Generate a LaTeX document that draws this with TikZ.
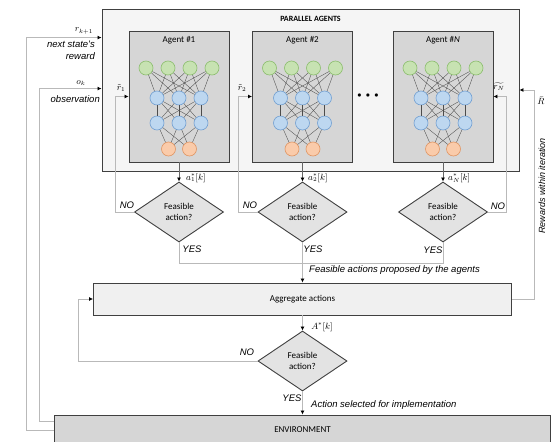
\documentclass[tikz,border=0pt]{standalone}
\usepackage{fontspec}
\setmainfont{Carlito}
\newfontfamily\arialfont{Liberation Sans}
\usepackage{amsmath}
\usetikzlibrary{arrows.meta, positioning, shapes.geometric, calc}

\definecolor{grnfill}{RGB}{199,226,178}
\definecolor{grnline}{RGB}{140,190,110}
\definecolor{blufill}{RGB}{189,215,240}
\definecolor{bluline}{RGB}{115,160,210}
\definecolor{orgfill}{RGB}{250,203,170}
\definecolor{orgline}{RGB}{225,150,100}

\begin{document}
\begin{tikzpicture}[
    x=1pt, y=-1pt,
    every node/.style={font=\fontsize{9}{11}\selectfont},
    box/.style={rectangle, draw=black!75, line width=0.9pt, align=center, inner sep=0pt},
    agentbox/.style={box, fill=gray!32, minimum width=100pt, minimum height=131pt},
    decision/.style={diamond, draw=black!75, line width=0.9pt, fill=gray!22, minimum width=89pt, minimum height=60pt, inner sep=0pt, align=center, font=\fontsize{9}{10.5}\selectfont},
    neuron/.style={circle, minimum size=14pt, inner sep=0pt, line width=0.6pt},
    edge/.style={black!70, line width=0.35pt},
    conn/.style={gray!55, line width=0.9pt},
    arrow/.style={conn, -{Latex[length=4pt, width=4pt, color=black]}},
    itlbl/.style={font=\arialfont\itshape\fontsize{9.5}{12}\selectfont, inner sep=1pt},
    mathlbl/.style={font=\fontsize{9}{11}\selectfont, inner sep=1pt},
    title/.style={font=\bfseries\fontsize{8}{10}\selectfont}
]
\clip (0,0) rectangle (552,442);

% ============ PARALLEL AGENTS ============
\node[box, fill=gray!8, minimum width=417pt, minimum height=162pt] (par) at (310.5,90) {};
\node[title, below=4pt of par.north] (partitle) {PARALLEL AGENTS};

% Agents with their networks
\foreach \i/\cx/\ttl in {1/179/1, 2/302.5/2, N/443/\textit{N}} {
    \node[agentbox] (ag\i) at (\cx,96.5) {};
    \node[below=2pt of ag\i.north] (t\i) {Agent \#\ttl};
    \foreach \j/\dx in {1/-33, 2/-11, 3/11, 4/33}
        \node[neuron, draw=grnline, fill=grnfill] (g\i\j) at ({\cx+\dx},68) {};
    \foreach \j/\dx in {1/-22, 2/0, 3/22} {
        \node[neuron, draw=bluline, fill=blufill] (h\i\j) at ({\cx+\dx},98) {};
        \node[neuron, draw=bluline, fill=blufill] (m\i\j) at ({\cx+\dx},123) {};
    }
    \foreach \j/\dx in {1/-10.5, 2/10.5}
        \node[neuron, draw=orgline, fill=orgfill] (o\i\j) at ({\cx+\dx},149) {};
    \foreach \a in {1,...,4} \foreach \b in {1,2,3} \draw[edge] (g\i\a) -- (h\i\b);
    \foreach \a in {1,2,3} \foreach \b in {1,2,3} \draw[edge] (h\i\a) -- (m\i\b);
    \foreach \a in {1,2,3} \foreach \b in {1,2} \draw[edge] (m\i\a) -- (o\i\b);
}
\node[font=\footnotesize] (dots) at (368,96) {$\bullet\;\bullet\;\bullet$};

% ============ AGENT FEASIBILITY CHECKS ============
\node[decision] (d1) at (179,212) {Feasible\\action?};
\node[decision] (d2) at (302.5,212) {Feasible\\action?};
\node[decision] (dN) at (443,212) {Feasible\\action?};

\foreach \i in {1,2,N} \draw[arrow, draw=black!60] (ag\i.south) -- (d\i.north);
\node[mathlbl, anchor=west] (a1) at (185,178) {$a_1^*[k]$};
\node[mathlbl, anchor=west] (a2) at (307,178) {$a_2^*[k]$};
\node[mathlbl, anchor=west] (aN) at (447,178) {$a_N^*[k]$};

% NO: back to the agent
\draw[arrow] (d1.west) -- ++(-19,0) |- (ag1.west);
\draw[arrow] (d2.west) -- ++(-19,0) |- (ag2.west);
\draw[arrow] (dN.east) -- ++(18,0) |- (agN.east);
\node[itlbl] (no1) at (127,205) {NO};
\node[itlbl] (no2) at (250,205) {NO};
\node[itlbl] (noN) at (498,206) {NO};
\node[mathlbl] (rt1) at (121,88) {$\tilde{r}_1$};
\node[mathlbl] (rt2) at (242,88) {$\tilde{r}_2$};
\node[mathlbl] (rtN) at (499,87) {$\widetilde{r_N}$};

% YES: to aggregation
\draw[conn] (d1.south) -- ++(0,21) -| (dN.south);
\node[itlbl] (yes1) at (192,249) {YES};
\node[itlbl] (yes2) at (313,249) {YES};
\node[itlbl] (yesN) at (433,250) {YES};
\node[itlbl, anchor=west] (feas) at (308,270) {Feasible actions proposed by the agents};

% ============ AGGREGATION ============
\node[box, fill=gray!12, minimum width=418pt, minimum height=32pt] (agg) at (302.5,299) {Aggregate actions};
\draw[arrow] (d2.south) -- (agg.north);

\node[decision] (d4) at (302.5,361) {Feasible\\action?};
\draw[arrow] (agg.south) -- (d4.north);
\node[mathlbl] (Astar) at (322,327) {$A^*[k]$};
\draw[arrow] (d4.west) -- ++(-179,0) |- (agg.west);
\node[itlbl] (no4) at (247,352) {NO};

% Rewards within iteration
\draw[arrow] (agg.east) -- ++(22,0) |- (par.east);
\node[mathlbl] (Rb) at (541,101) {$\bar{R}$};
\node[itlbl, rotate=90, font=\arialfont\itshape\fontsize{9}{11}\selectfont] (rwi) at (542,186) {Rewards within iteration};

% ============ ENVIRONMENT ============
\node[box, fill=gray!32, minimum width=496pt, minimum height=30pt] (env) at (302.5,430) {ENVIRONMENT};
\draw[arrow] (d4.south) -- (env.north);
\node[itlbl] (yes4) at (292,398) {YES};
\node[itlbl, anchor=west] (impl) at (310,405) {Action selected for implementation};

% Feedback to the agents
\coordinate (rin) at ($(par.north west)+(0,29)$);
\coordinate (oin) at ($(par.north west)+(0,80)$);
\draw[arrow] (env.west) -- ++(-28,0) |- (rin);
\draw[arrow] ($(env.west)+(0,-9)$) -- ++(-15,0) |- (oin);
\node[mathlbl] (rk) at (84,31) {$r_{k+1}$};
\node[itlbl, align=right, anchor=north east] (rktxt) at (96,40) {next state's\\reward};
\node[mathlbl] (ok) at (81,83) {$o_k$};
\node[itlbl, anchor=east] (obs) at (101,99) {observation};

\end{tikzpicture}
\end{document}
